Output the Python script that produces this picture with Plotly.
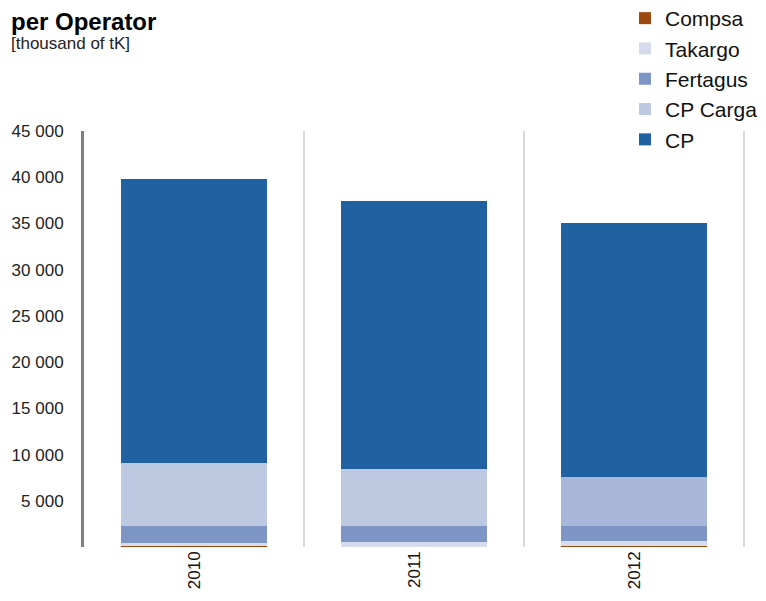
import plotly.graph_objects as go

years = ["2010", "2011", "2012"]
compsa = [80, 20, 80]
takargo = [400, 500, 540]
fertagus = [1800, 1800, 1620]
cp_carga = [6800, 6110, 5330]
cp = [30700, 28970, 27460]

tick_vals = [5000, 10000, 15000, 20000, 25000, 30000, 35000, 40000, 45000]
tick_text = ["5 000", "10 000", "15 000", "20 000", "25 000", "30 000", "35 000", "40 000", "45 000"]

series = [
    ("Compsa", compsa, "#9c4a10"),
    ("Takargo", takargo, "#d6dcee"),
    ("Fertagus", fertagus, "#7d96c6"),
    ("CP Carga", cp_carga, ["#bdc9e1", "#bdc9e1", "#a8b7d8"]),
    ("CP", cp, "#1f61a1"),
]

fig = go.Figure()
for name, vals, color in series:
    fig.add_trace(go.Bar(x=years, y=vals, name=name, marker=dict(color=color, line=dict(width=0))))

for xv in [0.5, 1.5, 2.5]:
    fig.add_shape(type="line", xref="x", yref="paper", x0=xv, x1=xv, y0=0, y1=1,
                  line=dict(color="#d9d9d9", width=2), layer="below")

# page is offset by the 8px default body margin
OFF = 8
font_family = "Liberation Sans, Arial, sans-serif"
L, T, PW, PH = 84 - OFF, 131 - OFF, 661, 416
W, H = 766 - OFF, 601 - OFF
B = H - T - PH
R = W - L - PW


def px(xp):
    return (xp - OFF - L) / PW


def py(yp):
    return (T + PH - (yp - OFF)) / PH


fig.update_layout(
    width=W, height=H,
    margin=dict(l=L, r=R, t=T, b=B, autoexpand=False),
    barmode="stack", bargap=0.34,
    plot_bgcolor="white", paper_bgcolor="white",
    font=dict(family=font_family, color="#222222"),
    showlegend=True,
    legend=dict(traceorder="normal", x=px(625), xanchor="left", y=py(-2), yanchor="top",
                font=dict(size=21, color="#111111", family=font_family),
                bgcolor="rgba(0,0,0,0)", itemwidth=30),
    xaxis=dict(type="category", tickangle=-90, tickfont=dict(size=17, color="#111111"),
               showline=False, showgrid=False, ticks=""),
    yaxis=dict(range=[0, 45000], tickvals=tick_vals, ticktext=tick_text,
               tickfont=dict(size=17, color="#222222"), showgrid=False, zeroline=False,
               showline=True, linecolor="#808080", linewidth=3, ticks="",
               ticklabelstandoff=14),
    annotations=[
        dict(text="<b>per Operator</b>", xref="paper", yref="paper", x=px(9), y=py(21),
             xanchor="left", yanchor="middle", showarrow=False,
             font=dict(size=24, color="#000000", family=font_family)),
        dict(text="[thousand of tK]", xref="paper", yref="paper", x=px(9), y=py(44),
             xanchor="left", yanchor="middle", showarrow=False,
             font=dict(size=17, color="#222222", family=font_family)),
    ],
)

fig.write_html("out.html")
